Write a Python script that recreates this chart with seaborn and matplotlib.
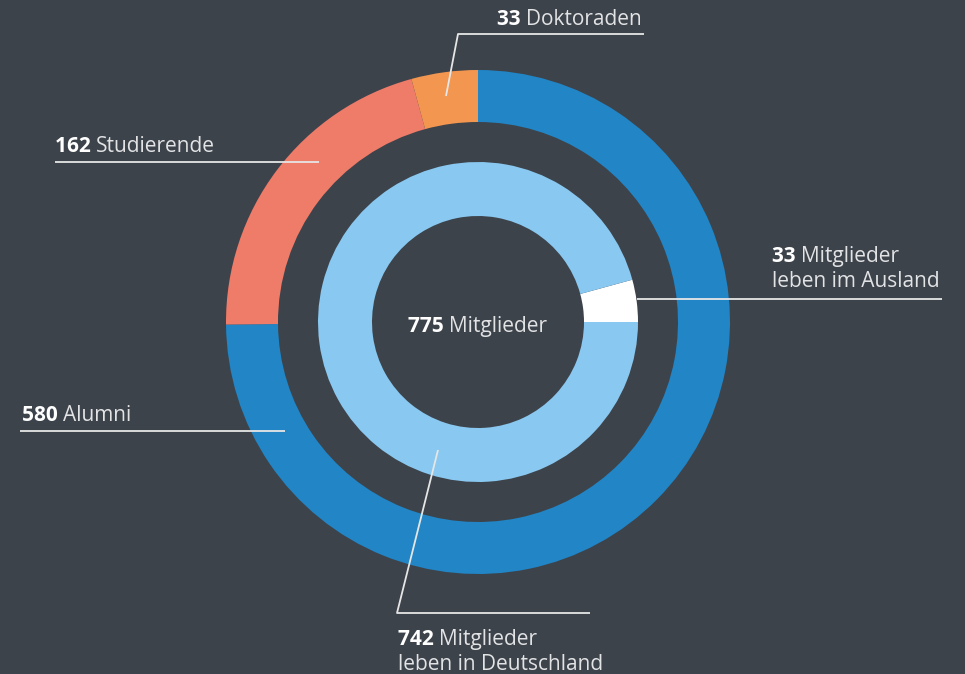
"""
Mitglieder-Verteilung als doppelter Ring
"""
import matplotlib
matplotlib.use("Agg")
import matplotlib.pyplot as plt
import seaborn as sns

# outer ring: status
status_labels = ["Alumni", "Studierende", "Doktoraden"]
status_values = [580, 162, 33]
status_colors = ["#2185c6", "#ef7b69", "#f39650"]

# inner ring: residence
residence_labels = ["Mitglieder\nleben im Ausland", "Mitglieder\nleben in Deutschland"]
residence_values = [33, 742]
residence_colors = ["#ffffff", "#89c8f0"]

total_label = "Mitglieder"

BG = "#3d434b"
TXT = "#e2e3e5"
LINE = "#e6e6e6"
FS = 15

sns.set_theme(style="dark", rc={"axes.facecolor": BG, "figure.facecolor": BG})
plt.rcParams["font.family"] = ["Open Sans", "DejaVu Sans"]

W, H = 965, 674
fig = plt.figure(figsize=(W / 100, H / 100), dpi=100)
ax = fig.add_axes([0, 0, 1, 1])
ax.set_aspect("equal")
ax.axis("off")

cx, cy = 478, H - 322

ax.pie(status_values, colors=status_colors, startangle=90, counterclock=False,
       radius=252, center=(cx, cy), wedgeprops=dict(width=52, linewidth=0))
ax.pie(residence_values, colors=residence_colors, startangle=0, counterclock=True,
       radius=160, center=(cx, cy), wedgeprops=dict(width=54, linewidth=0))
ax.set_xlim(0, W)
ax.set_ylim(0, H)


def label(x, y, num, rest):
    """Bold number followed by light text; y in pixel coords from top."""
    lines = rest.split("\n")
    t = ax.text(x, H - y, f"{num} ", color="white", fontsize=FS, fontweight="bold",
                ha="left", va="baseline")
    ax.annotate(lines[0], xy=(1, 0), xycoords=t, color=TXT, fontsize=FS,
                fontweight="normal", ha="left", va="bottom")
    for i, ln in enumerate(lines[1:], start=1):
        ax.text(x, H - y - 25 * i, ln, color=TXT, fontsize=FS,
                fontweight="normal", ha="left", va="baseline")
    return t


def leader(xs, ys):
    ax.plot(xs, [H - v for v in ys], color=LINE, lw=1.3, solid_capstyle="butt", zorder=5)


# Doktoraden
label(497, 25, status_values[2], status_labels[2])
leader([446, 458, 644], [96, 34, 34])
# Studierende
label(55, 152, status_values[1], status_labels[1])
leader([55, 319], [162, 162])
# Alumni
label(22, 421, status_values[0], status_labels[0])
leader([20, 285], [431, 431])
# Ausland
label(772, 262, residence_values[0], residence_labels[0])
leader([637, 942], [299, 299])
# Deutschland
label(398, 645, residence_values[1], residence_labels[1])
leader([438, 397, 590], [450, 613, 613])

# center total
total = sum(status_values)
ct = ax.text(408, H - 332, f"{total} ", color="white", fontsize=FS,
             fontweight="bold", ha="left", va="baseline")
ax.annotate(total_label, xy=(1, 0), xycoords=ct, color=TXT, fontsize=FS,
            fontweight="normal", ha="left", va="bottom")

fig.savefig("out.png", dpi=100, facecolor=BG)
